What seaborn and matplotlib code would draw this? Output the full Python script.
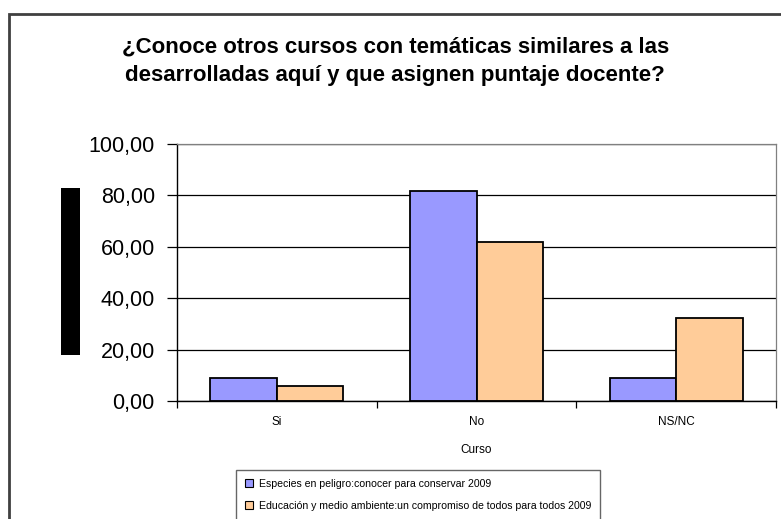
#grouped bar chart: conoce otros cursos con puntaje docente
import matplotlib
matplotlib.use("Agg")
import matplotlib.pyplot as plt
from matplotlib.patches import Rectangle
from matplotlib.ticker import FuncFormatter, FixedLocator
import seaborn as sns
import pandas as pd

sns.set_theme(style="white")
plt.rcParams['font.family'] = ['Liberation Sans', 'DejaVu Sans']
plt.rcParams['text.color'] = 'black'
plt.rcParams['axes.labelcolor'] = 'black'
plt.rcParams['xtick.color'] = 'black'
plt.rcParams['ytick.color'] = 'black'

#data (percentages)
categorias = ["Si", "No", "NS/NC"]
series = ["Especies en peligro:conocer para conservar 2009",
          "Educación y medio ambiente:un compromiso de todos para todos 2009"]
especies = [9.09, 81.82, 9.09]
educacion = [5.88, 61.76, 32.35]
colores = ["#9999FF", "#FFCC99"]

df = pd.DataFrame({
    "Curso": categorias * 2,
    "valor": especies + educacion,
    "serie": [series[0]] * 3 + [series[1]] * 3,
})

fig = plt.figure(figsize=(7.81, 5.19), dpi=100)
ax = fig.add_axes([177 / 781, 1 - 401 / 519, 599 / 781, 257 / 519])

sns.barplot(data=df, x="Curso", y="valor", hue="serie", order=categorias,
            hue_order=series, palette=colores, edgecolor="black", linewidth=1.3,
            width=2 / 3, saturation=1, ax=ax)

ax.set_ylim(0, 100)
ax.set_xlim(-0.5, 2.5)
ax.set_yticks(range(0, 101, 20))
ax.yaxis.set_major_formatter(FuncFormatter(lambda v, p: f"{v:.2f}".replace(".", ",")))
ax.grid(axis="y", color="black", linewidth=0.9)
ax.set_axisbelow(True)

#x ticks sit between the categories, labels in the middle
ax.xaxis.set_major_locator(FixedLocator([-0.5, 0.5, 1.5, 2.5]))
ax.xaxis.set_minor_locator(FixedLocator([0, 1, 2]))
ax.xaxis.set_major_formatter(FuncFormatter(lambda v, p: ""))
ax.set_xticklabels(categorias, minor=True)
ax.tick_params(axis="x", which="major", direction="out", length=5, width=0.9, color="black", bottom=True)
ax.tick_params(axis="x", which="minor", length=0, labelsize=8.5, pad=11, bottom=True)
ax.tick_params(axis="y", direction="out", length=7, width=0.9, color="black",
               labelsize=15.5, pad=9, left=True)

for side in ["top", "right"]:
    ax.spines[side].set_color("#808080")
    ax.spines[side].set_linewidth(0.9)
for side in ["left", "bottom"]:
    ax.spines[side].set_color("black")
    ax.spines[side].set_linewidth(1.0)

ax.set_xlabel("Curso", fontsize=8.5, labelpad=11)
ax.set_ylabel("")

#legend box at the bottom
ax.get_legend().remove()
handles = [Rectangle((0, 0), 1, 1, facecolor=c, edgecolor="black", linewidth=0.8) for c in colores]
leg = fig.legend(handles, series, loc="upper left", bbox_to_anchor=(236 / 781, 1 - 470 / 519),
                 fontsize=7.6, frameon=True, fancybox=False, edgecolor="#404040",
                 handlelength=0.8, handleheight=0.8, handletextpad=0.5,
                 borderpad=0.85, labelspacing=1.1, borderaxespad=0)
leg.get_frame().set_linewidth(1.0)

#title
fig.text(0.506, 1 - 61 / 519,
         "¿Conoce otros cursos con temáticas similares a las\ndesarrolladas aquí y que asignen puntaje docente?",
         ha="center", va="center", fontsize=16, fontweight="bold", linespacing=1.45)

#black bar where the y label sits
fig.patches.append(Rectangle((61 / 781, 1 - 355 / 519), 19 / 781, 167 / 519,
                             transform=fig.transFigure, facecolor="black", edgecolor="none"))

#outer chart frame, cut at right and bottom
fig.patches.append(Rectangle((9 / 781, -0.2), 1.2, 1.2 - 14 / 519,
                             transform=fig.transFigure, facecolor="none",
                             edgecolor="#404040", linewidth=2))

fig.savefig("out.png", dpi=100)
